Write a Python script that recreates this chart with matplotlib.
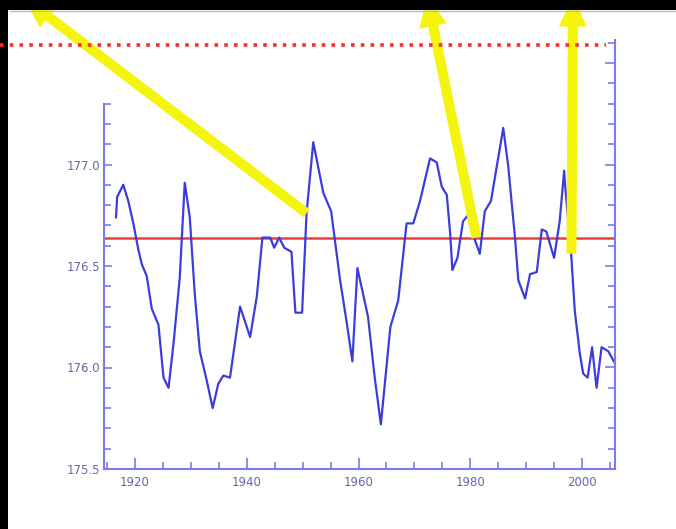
import numpy as np
import matplotlib
matplotlib.use("Agg")
import matplotlib.pyplot as plt
from matplotlib.ticker import FixedLocator, FormatStrFormatter
from matplotlib.patches import Rectangle
from matplotlib.lines import Line2D

# Yearly series (year, level)
years = [1916.6, 1916.8, 1917.9, 1918.8, 1919.7, 1920.6, 1921.2, 1922.1, 1923.0,
         1924.2, 1925.1, 1926.0, 1926.9, 1928.0, 1928.9, 1929.8, 1930.7, 1931.6,
         1932.8, 1933.9, 1934.9, 1935.8, 1937.0, 1938.8, 1940.6, 1941.8, 1942.8,
         1944.2, 1944.9, 1945.8, 1946.7, 1948.0, 1948.7, 1949.9, 1950.7, 1951.9,
         1953.7, 1955.1, 1956.7, 1957.9, 1958.9, 1959.8, 1961.7, 1962.9, 1964.0,
         1965.7, 1967.1, 1968.6, 1969.8, 1971.0, 1972.8, 1974.0, 1974.9, 1975.8,
         1976.4, 1976.8, 1977.7, 1978.7, 1979.6, 1980.8, 1981.7, 1982.6, 1983.7,
         1985.9, 1986.8, 1988.0, 1988.6, 1989.8, 1990.7, 1991.9, 1992.8, 1993.6,
         1995.0, 1996.0, 1996.8, 1997.0, 1998.1, 1998.7, 1999.6, 2000.2, 2001.0,
         2001.8, 2002.6, 2003.5, 2004.7, 2005.9]
levels = [176.74, 176.84, 176.90, 176.82, 176.71, 176.58, 176.51, 176.45, 176.29,
          176.21, 175.95, 175.90, 176.12, 176.44, 176.91, 176.74, 176.36, 176.08,
          175.94, 175.80, 175.92, 175.96, 175.95, 176.30, 176.15, 176.35, 176.64,
          176.64, 176.59, 176.64, 176.59, 176.57, 176.27, 176.27, 176.76, 177.11,
          176.86, 176.77, 176.43, 176.22, 176.03, 176.49, 176.25, 175.95, 175.72,
          176.20, 176.33, 176.71, 176.71, 176.82, 177.03, 177.01, 176.89, 176.85,
          176.66, 176.48, 176.54, 176.72, 176.75, 176.63, 176.56, 176.77, 176.82,
          177.18, 176.99, 176.64, 176.43, 176.34, 176.46, 176.47, 176.68, 176.67,
          176.54, 176.72, 176.97, 176.89, 176.54, 176.28, 176.07, 175.97, 175.95,
          176.10, 175.90, 176.10, 176.08, 176.02]

mean_level = 176.64
upper_level = 177.59

y_major = [175.5, 176.0, 176.5, 177.0]
x_major = [1920, 1940, 1960, 1980, 2000]

# arrow anchors on the curve and their tips near the top edge (figure pixels)
arrow_years = [1950.7, 1981.1, 1998.1]
arrow_levels = [176.76, 176.64, 176.56]
arrow_tips_px = [(24, -2), (427, -4), (573, -4)]

W, H = 676, 529
BLUE = "#3c3cde"
AXIS = "#7a7aea"
LABEL = "#6666aa"
RED = "#e8403e"
YELLOW = "#f4f40c"

fig = plt.figure(figsize=(W / 100, H / 100), dpi=100)
fig.patch.set_facecolor("white")

# dark frame along the top and left edges
fig.patches.append(Rectangle((0, 1 - 10 / H), 1, 10 / H, transform=fig.transFigure,
                             facecolor="black", edgecolor="none", zorder=0))
fig.patches.append(Rectangle((0, 0), 8 / W, 1, transform=fig.transFigure,
                             facecolor="black", edgecolor="none", zorder=0))
fig.lines.append(Line2D([10 / W, 1], [1 - 11 / H, 1 - 11 / H], transform=fig.transFigure,
                        color="#bbbbbb", lw=1.0, zorder=0))

left, right, bottom, top = 104 / W, 615 / W, 1 - 469 / H, 1 - 40 / H
ax = fig.add_axes([left, bottom, right - left, top - bottom])
ax.set_facecolor("none")
ax.set_xlim(1914.45, 2005.9)
ax.set_ylim(175.5, 175.5 + 429 / 203)

ax.plot(years, levels, color=BLUE, lw=1.6, zorder=3)
ax.axhline(mean_level, color=RED, lw=1.8, zorder=2)

for side in ("top", "right"):
    ax.spines[side].set_visible(False)
for side in ("left", "bottom"):
    ax.spines[side].set_color(AXIS)
    ax.spines[side].set_linewidth(1.5)
ax.spines["left"].set_bounds(175.5, 177.3)

ax.yaxis.set_major_locator(FixedLocator(y_major))
ax.yaxis.set_minor_locator(FixedLocator(np.round(np.arange(175.6, 177.31, 0.1), 1)))
ax.yaxis.set_major_formatter(FormatStrFormatter("%.1f"))
ax.xaxis.set_major_locator(FixedLocator(x_major))
ax.xaxis.set_minor_locator(FixedLocator(np.arange(1915, 2006, 5)))

ax.tick_params(axis="both", which="both", direction="in", color=AXIS, width=1.2,
               labelcolor=LABEL, labelsize=8.5)
ax.tick_params(axis="y", which="major", length=6, pad=3)
ax.tick_params(axis="y", which="minor", length=5)
ax.tick_params(axis="x", which="major", length=8, pad=5)
ax.tick_params(axis="x", which="minor", length=5)

# right-hand scale running to the top of the frame
ax2 = ax.twinx()
ax2.set_ylim(ax.get_ylim())
for side in ("top", "left", "bottom"):
    ax2.spines[side].set_visible(False)
ax2.spines["right"].set_color(AXIS)
ax2.spines["right"].set_linewidth(1.5)
ax2.yaxis.set_major_locator(FixedLocator([175.5, 176.0, 176.5, 177.0, 177.5]))
ax2.yaxis.set_minor_locator(FixedLocator(np.round(np.arange(175.6, 177.61, 0.1), 1)))
ax2.tick_params(axis="y", which="both", direction="in", color=AXIS, width=1.2,
                labelright=False)
ax2.tick_params(axis="y", which="major", length=7)
ax2.tick_params(axis="y", which="minor", length=5)

# dotted upper level, running out to the left edge
y_up = ax.transData.transform((2000, upper_level))[1] / H
fig.lines.append(Line2D([0, 606 / W], [y_up, y_up], transform=fig.transFigure,
                        color="#ff2a2a", lw=2.6, linestyle=(0, (1, 1.7)), zorder=4))

# yellow arrows
for yr, lv, (px, py) in zip(arrow_years, arrow_levels, arrow_tips_px):
    ax.annotate("", xy=(px / W, 1 - py / H), xycoords="figure fraction",
                xytext=(yr, lv), textcoords="data",
                arrowprops=dict(arrowstyle="simple,head_length=1.1,head_width=1.0,tail_width=0.36",
                                fc=YELLOW, ec=YELLOW, lw=0, shrinkA=0, shrinkB=0,
                                mutation_scale=20),
                annotation_clip=False, zorder=10)

fig.savefig("out.png", dpi=100, facecolor=fig.get_facecolor())
